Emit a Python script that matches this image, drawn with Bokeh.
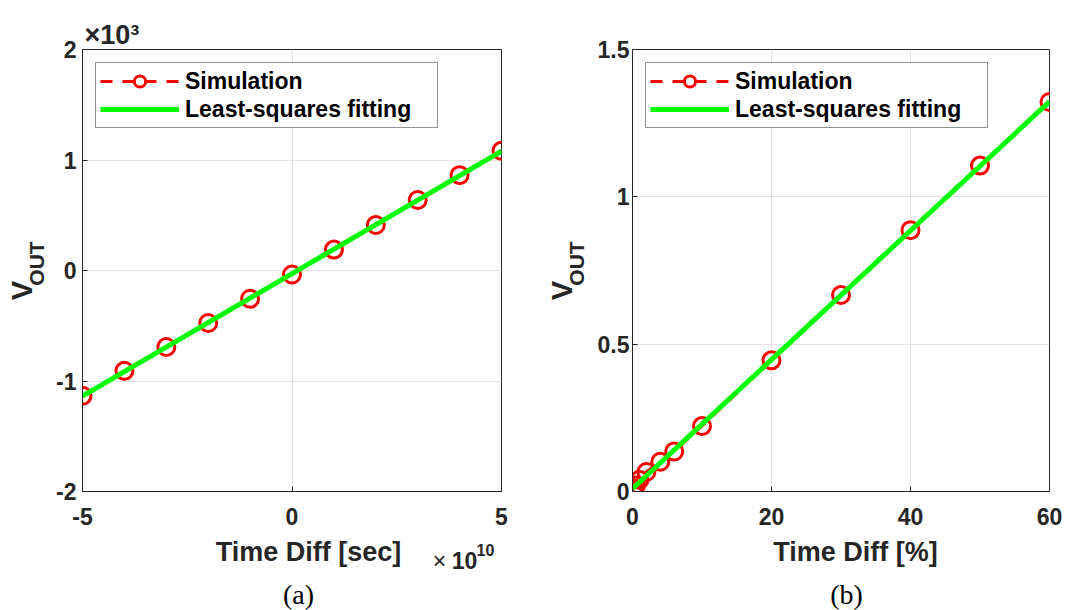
import numpy as np
from bokeh.plotting import figure
from bokeh.models import (Legend, LegendItem, FixedTicker, Range1d,
                          CustomJSTickFormatter)
from bokeh.layouts import row, column
from bokeh.core.properties import value
from bokeh.embed import file_html
from bokeh.resources import INLINE

# ---------------- data: panel (a) ----------------
# x in units of 1e-10 s, y in units of 1e-3 V
time_diff_a = [-5, -4, -3, -2, -1, 0, 1, 2, 3, 4, 5]
vout_a = [-1.134, -0.908, -0.692, -0.475, -0.256, -0.036, 0.189, 0.412, 0.638, 0.863, 1.083]
xticks_a = [-5, 0, 5]
yticks_a = [-2, -1, 0, 1, 2]

# ---------------- data: panel (b) ----------------
time_diff_b = [0, 0.1, 0.2, 0.5, 1, 2, 4, 6, 10, 20, 30, 40, 50, 60]
vout_b = [0.004, 0.007, 0.011, 0.02, 0.04, 0.066, 0.101, 0.136, 0.222, 0.445, 0.667, 0.887, 1.106, 1.322]
xticks_b = [0, 20, 40, 60]
yticks_b = [0, 0.5, 1, 1.5]

legend_labels = ["Simulation", "Least-squares fitting"]
xlabels = ["Time Diff [sec]", "Time Diff [%]"]
captions = ["(a)", "(b)"]

RED = "#ff0000"
GREEN = "#00ff00"
DARK = "#262626"
FONT = "Liberation Sans"
SERIF = "Liberation Serif"
TICK_FS = "23px"
LABEL_FS = "27px"

B_TOP = 49      # border above plot frame
B_BOT = 43      # border below plot frame
FRAME_H = 442
MID_H = B_TOP + FRAME_H + B_BOT   # plot row height (534)
BOT_H = 610 - MID_H               # strip below the plots (76)

fmt = CustomJSTickFormatter(code="return String(Number(tick.toFixed(3)));")


def strip(w, h, bt=0, bb=0):
    s = figure(width=w, height=h, x_range=Range1d(0, w), y_range=Range1d(0, h - bt - bb),
               x_axis_type=None, y_axis_type=None, output_backend="svg",
               toolbar_location=None, min_border=0, min_border_top=bt,
               min_border_bottom=bb, outline_line_color=None)
    s.grid.visible = False
    s.background_fill_color = "white"
    s.border_fill_color = "white"
    return s


def txt(s, x, y, text, size, bold=True, align="center", angle=0.0,
        font=FONT, color=DARK):
    # (x, y): centre of the text's line box in the strip's own pixel frame
    s.text(x=[x], y=[y], text=[text], text_font=value(font),
           text_font_size=value(size), text_font_style="bold" if bold else "normal",
           text_color=color, text_align=align, text_baseline="middle",
           angle=angle)


def make_panel(x, y, xr, yr, xticks, yticks, width, bl, br, ystand):
    p = figure(width=width, height=MID_H, x_range=Range1d(*xr), y_range=Range1d(*yr),
               output_backend="svg", toolbar_location=None,
               min_border_left=bl, min_border_right=br,
               min_border_top=B_TOP, min_border_bottom=B_BOT)
    p.background_fill_color = "white"
    p.border_fill_color = "white"
    p.outline_line_color = DARK
    p.outline_line_width = 1
    p.outline_line_alpha = 1

    p.xaxis.ticker = FixedTicker(ticks=xticks)
    p.yaxis.ticker = FixedTicker(ticks=yticks)
    for ax in (p.xaxis, p.yaxis):
        ax.formatter = fmt
        ax.axis_line_color = DARK
        ax.major_tick_line_color = DARK
        ax.major_tick_in = 5
        ax.major_tick_out = 0
        ax.minor_tick_line_color = None
        ax.major_label_text_font = FONT
        ax.major_label_text_font_style = "bold"
        ax.major_label_text_font_size = TICK_FS
        ax.major_label_text_color = DARK
    p.xaxis.major_label_standoff = 16
    p.yaxis.major_label_standoff = ystand

    p.grid.grid_line_color = "#e3e3e3"
    p.grid.grid_line_width = 1

    # simulation (dashed red with circles) and least-squares fit (green)
    r_line = p.line(x, y, line_color=RED, line_width=3, line_dash="12 10")
    r_pts = p.scatter(x, y, marker="circle", size=17, line_color=RED, line_width=3,
                      fill_color=None)
    coef = np.polyfit(np.array(x, dtype=float), np.array(y, dtype=float), 1)
    fx = [min(x), max(x)]
    fy = list(np.polyval(coef, fx))
    g_line = p.line(fx, fy, line_color=GREEN, line_width=5)

    leg = Legend(items=[LegendItem(label=legend_labels[0], renderers=[r_line, r_pts]),
                        LegendItem(label=legend_labels[1], renderers=[g_line])],
                 location="top_left", margin=13, padding=4, spacing=0,
                 glyph_width=79, glyph_height=28, label_height=20, label_width=248,
                 label_standoff=6,
                 label_text_font=FONT, label_text_font_style="bold",
                 label_text_font_size="23px", label_text_color="#000000",
                 border_line_color=DARK, border_line_width=1,
                 background_fill_color="white", background_fill_alpha=1)
    p.add_layout(leg)
    return p


def vout_strip(w, v_x, sub_x):
    # y measured upward from the bottom of the plot frame
    s = strip(w, MID_H, B_TOP, B_BOT)
    txt(s, v_x, 201, "V", "29px", angle=np.pi / 2)
    txt(s, sub_x, 228, "OUT", "21px", angle=np.pi / 2)
    return s


# ---------------- panel (a) block (width 545) ----------------
left_a = vout_strip(50, 21, 36)
main_a = make_panel(time_diff_a, vout_a, (-5, 5), (-2, 2), xticks_a, yticks_a,
                    495, 32, 44, 6)
# axis exponent above the frame
main_a.title.text = "\u00d710\u00b3"
main_a.title.align = "left"
main_a.title.offset = 2
main_a.title.standoff = 0
main_a.title.vertical_align = "bottom"
main_a.title.text_font = FONT
main_a.title.text_font_size = "27px"
main_a.title.text_font_style = "bold"
main_a.title.text_color = DARK

# bottom strip: y measured upward from the bottom of the picture
bot_a = strip(545, BOT_H)
txt(bot_a, 308, 59, xlabels[0], LABEL_FS)
txt(bot_a, 439, 50, "\u00d7", "23px", bold=False)
txt(bot_a, 464, 50, "10", "23px")
txt(bot_a, 485, 61, "10", "16px")
txt(bot_a, 298, 16, captions[0], "28px", bold=False, font=SERIF, color="#000000")

block_a = column(row(left_a, main_a), bot_a)

# ---------------- panel (b) block (width 523) ----------------
left_b = vout_strip(45, 16, 31)
main_b = make_panel(time_diff_b, vout_b, (0, 60), (0, 1.5), xticks_b, yticks_b,
                    478, 42, 19, 3)
bot_b = strip(523, BOT_H)
txt(bot_b, 310, 59, xlabels[1], LABEL_FS)
txt(bot_b, 301, 16, captions[1], "28px", bold=False, font=SERIF, color="#000000")

block_b = column(row(left_b, main_b), bot_b)

layout = row(block_a, block_b)
open("out.html", "w").write(file_html(layout, INLINE))
